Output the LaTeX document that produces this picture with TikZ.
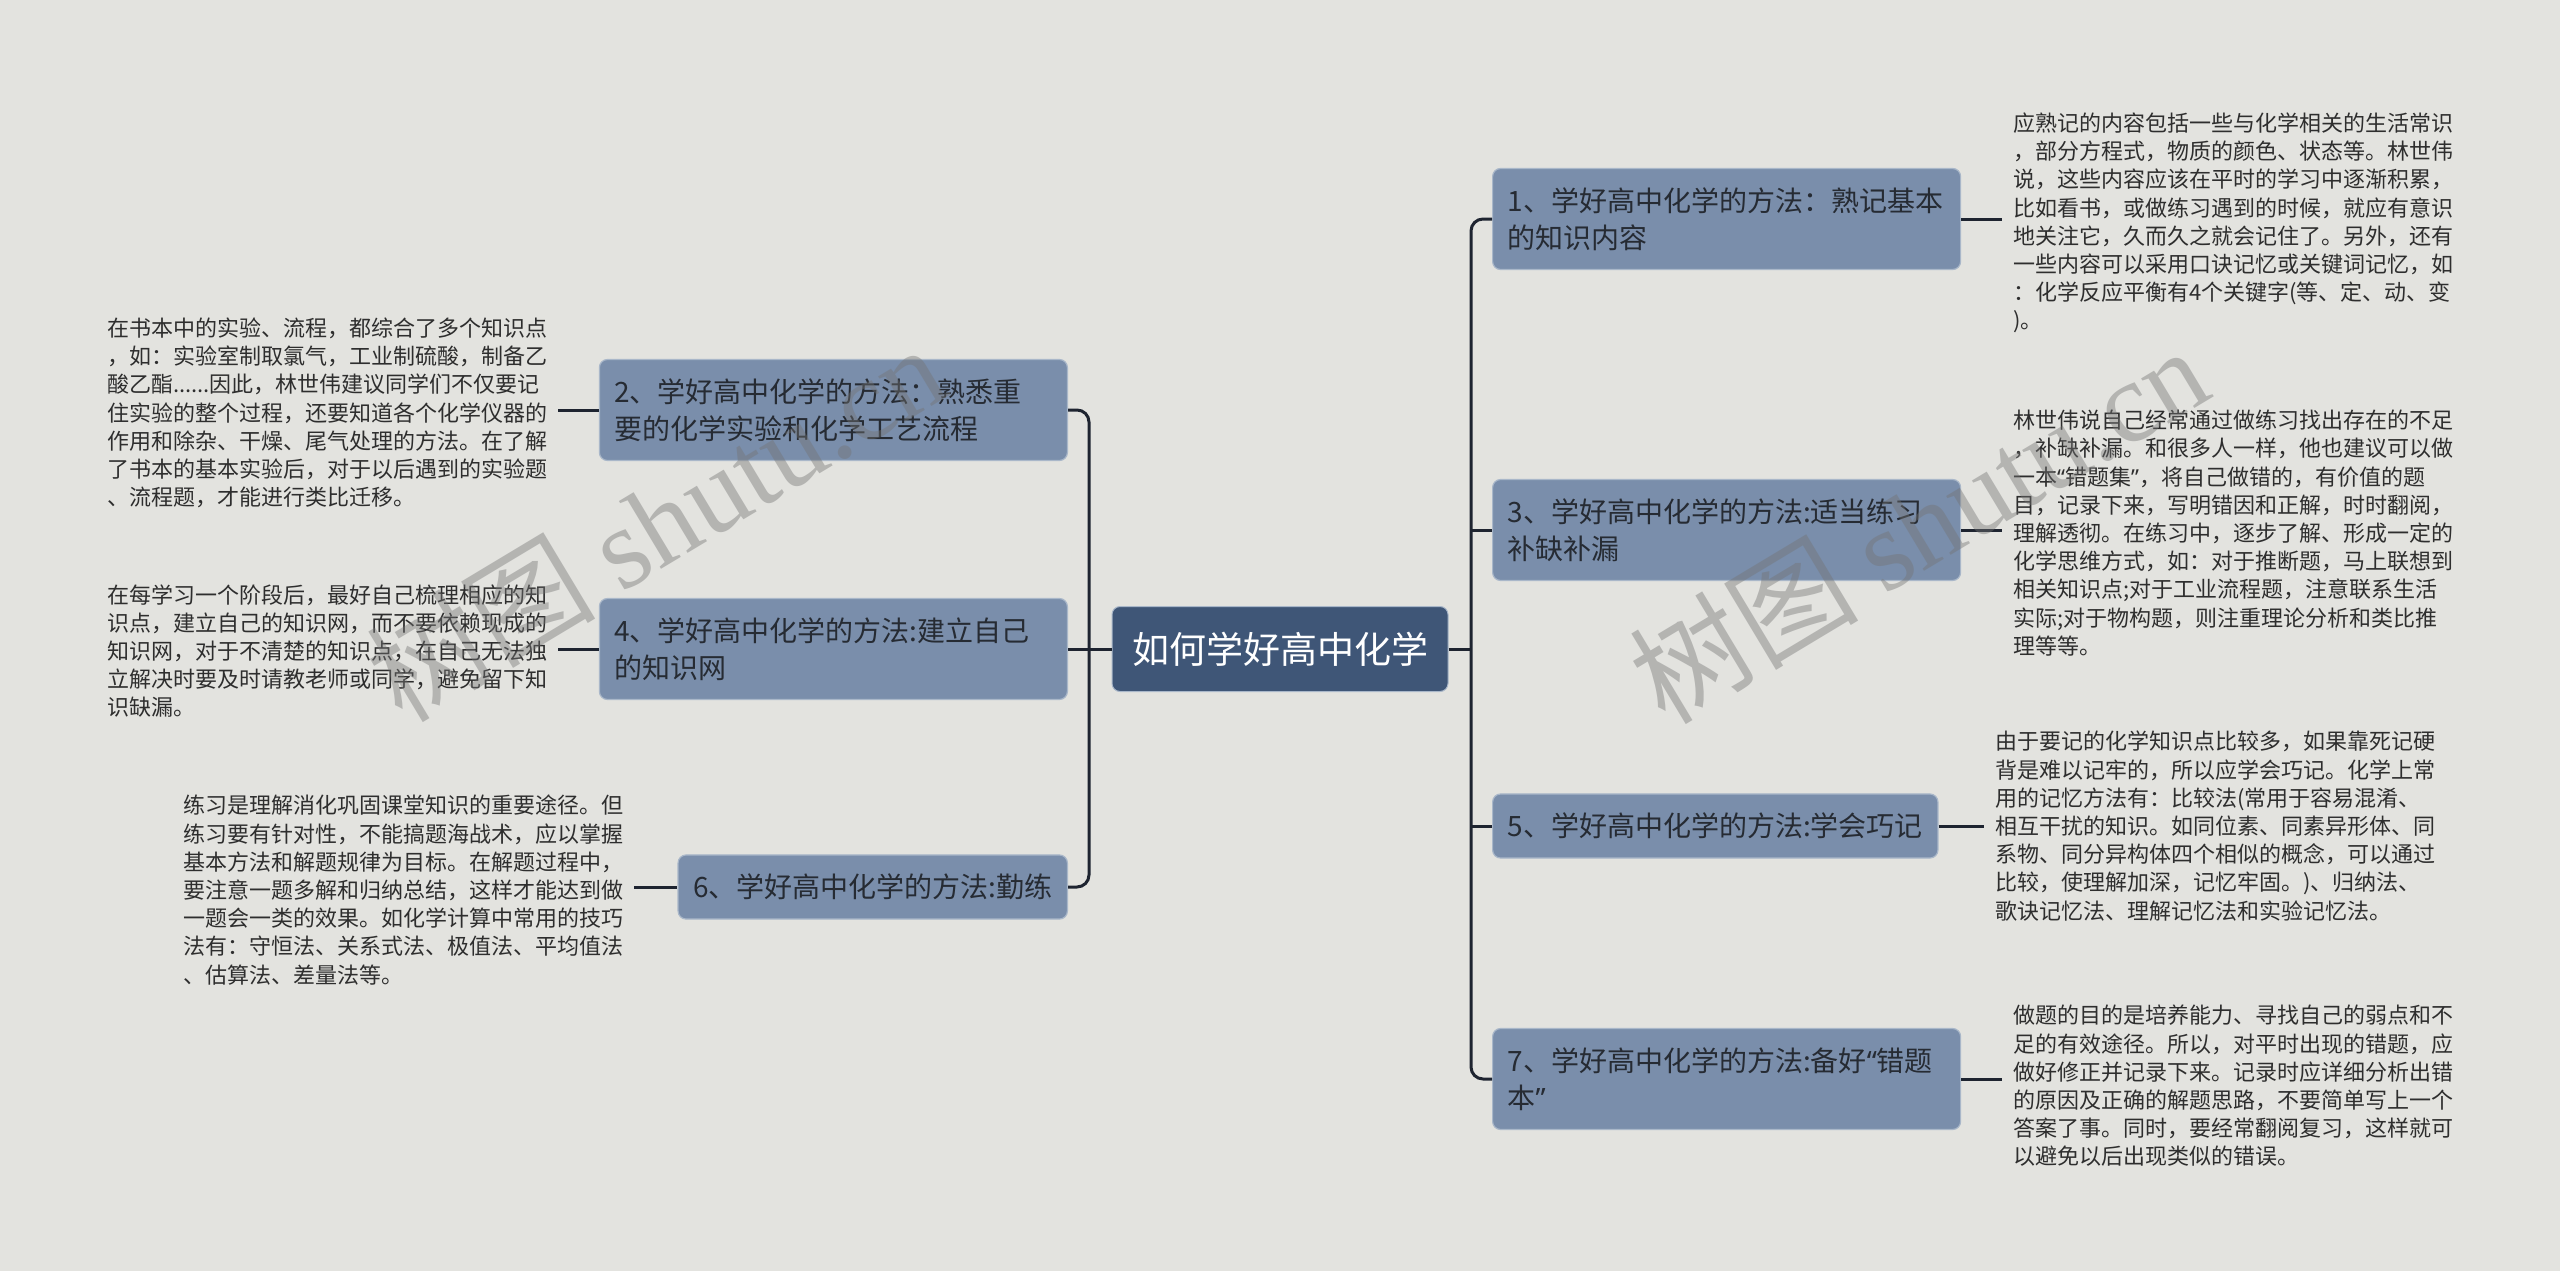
\documentclass[tikz,border=0pt]{standalone}
\usepackage{fontspec}
\setmainfont{Noto Sans CJK SC}
\newfontfamily\wmlatin{Liberation Serif}
\newfontfamily\qfont{Noto Sans}
\newcommand{\myoq}{{\qfont “}}
\newcommand{\mycq}{{\qfont ”}}
\usetikzlibrary{calc}
\definecolor{bgc}{HTML}{E3E3DF}
\definecolor{rootc}{HTML}{3F5677}
\definecolor{subc}{HTML}{7A8EAB}
\definecolor{subb}{HTML}{A9B7C9}
\definecolor{linec}{HTML}{1E2430}
\definecolor{txtc}{HTML}{2E2E2E}
\definecolor{nodetxt}{HTML}{262B33}
\begin{document}
\begin{tikzpicture}[x=1pt,y=-1pt,
  conn/.style={draw=linec, line width=3pt},
  rootnode/.style={fill=rootc, draw=subb, line width=1pt, rounded corners=8pt,
    minimum width=336pt, minimum height=85pt, text=white,
    font=\fontsize{37}{44}\selectfont, inner sep=0pt},
  subnode/.style={fill=subc, draw=subb, line width=1.2pt, rounded corners=8pt,
    text=nodetxt, font=\fontsize{28}{37}\selectfont, align=left,
    inner xsep=15pt, inner ysep=19pt},
  wrapped/.style={text width=438pt},
  desc/.style={text=txtc, font=\fontsize{22}{28.2}\selectfont, align=left,
    inner xsep=11pt, inner ysep=0pt},
  wm/.style={text=black!55, opacity=0.42, text opacity=0.42, rotate=31,
    font=\fontsize{115}{115}\selectfont, inner sep=0pt}]

\fill[bgc] (0,0) rectangle (2560,1271);
\useasboundingbox (0,0) rectangle (2560,1271);

% root
\node[rootnode] (root) at (1280,649) {如何学好高中化学};

% right branches
\node[subnode, wrapped, anchor=west] (n1) at (1492,219) {1、学好高中化学的方法：熟记基本\\的知识内容};
\node[subnode, wrapped, anchor=west] (n3) at (1492,530) {3、学好高中化学的方法:适当练习\\补缺补漏};
\node[subnode, anchor=west] (n5) at (1492,826) {5、学好高中化学的方法:学会巧记};
\node[subnode, wrapped, anchor=west] (n7) at (1492,1079) {7、学好高中化学的方法:备好\myoq 错题\\本\mycq};

% left branches
\node[subnode, wrapped, anchor=east] (n2) at (1068,410) {2、学好高中化学的方法：熟悉重\\要的化学实验和化学工艺流程};
\node[subnode, wrapped, anchor=east] (n4) at (1068,649) {4、学好高中化学的方法:建立自己\\的知识网};
\node[subnode, anchor=east] (n6) at (1068,887) {6、学好高中化学的方法:勤练};

% descriptions right
\node[desc, anchor=west] (t1) at (2002,223) {应熟记的内容包括一些与化学相关的生活常识\\，部分方程式，物质的颜色、状态等。林世伟\\说，这些内容应该在平时的学习中逐渐积累，\\比如看书，或做练习遇到的时候，就应有意识\\地关注它，久而久之就会记住了。另外，还有\\一些内容可以采用口诀记忆或关键词记忆，如\\：化学反应平衡有4个关键字(等、定、动、变\\)。};
\node[desc, anchor=west] (t3) at (2002,533) {林世伟说自己经常通过做练习找出存在的不足\\，补缺补漏。和很多人一样，他也建议可以做\\一本\myoq 错题集\mycq ，将自己做错的，有价值的题\\目，记录下来，写明错因和正解，时时翻阅，\\理解透彻。在练习中，逐步了解、形成一定的\\化学思维方式，如：对于推断题，马上联想到\\相关知识点;对于工业流程题，注意联系生活\\实际;对于物构题，则注重理论分析和类比推\\理等等。};
\node[desc, anchor=west] (t5) at (1984,826) {由于要记的化学知识点比较多，如果靠死记硬\\背是难以记牢的，所以应学会巧记。化学上常\\用的记忆方法有：比较法(常用于容易混淆、\\相互干扰的知识。如同位素、同素异形体、同\\系物、同分异构体四个相似的概念，可以通过\\比较，使理解加深，记忆牢固。)、归纳法、\\歌诀记忆法、理解记忆法和实验记忆法。};
\node[desc, anchor=west] (t7) at (2002,1086) {做题的目的是培养能力、寻找自己的弱点和不\\足的有效途径。所以，对平时出现的错题，应\\做好修正并记录下来。记录时应详细分析出错\\的原因及正确的解题思路，不要简单写上一个\\答案了事。同时，要经常翻阅复习，这样就可\\以避免以后出现类似的错误。};

% descriptions left
\node[desc, anchor=west] (t2) at (96,413) {在书本中的实验、流程，都综合了多个知识点\\，如：实验室制取氯气，工业制硫酸，制备乙\\酸乙酯......因此，林世伟建议同学们不仅要记\\住实验的整个过程，还要知道各个化学仪器的\\作用和除杂、干燥、尾气处理的方法。在了解\\了书本的基本实验后，对于以后遇到的实验题\\、流程题，才能进行类比迁移。};
\node[desc, anchor=west] (t4) at (96,651) {在每学习一个阶段后，最好自己梳理相应的知\\识点，建立自己的知识网，而不要依赖现成的\\知识网，对于不清楚的知识点，在自己无法独\\立解决时要及时请教老师或同学，避免留下知\\识缺漏。};
\node[desc, anchor=west] (t6) at (172,890) {练习是理解消化巩固课堂知识的重要途径。但\\练习要有针对性，不能搞题海战术，应以掌握\\基本方法和解题规律为目标。在解题过程中，\\要注意一题多解和归纳总结，这样才能达到做\\一题会一类的效果。如化学计算中常用的技巧\\法有：守恒法、关系式法、极值法、平均值法\\、估算法、差量法等。};

% trunks
\coordinate (lt) at (1089,649);
\coordinate (rt) at (1471,649);
\draw[conn, rounded corners=12pt] (n2.east) -| (lt) |- (n6.east);
\draw[conn] (n4.east) -- (root.west);
\draw[conn, rounded corners=12pt] (n1.west) -| (rt) |- (n7.west);
\draw[conn] (root.east) -- (rt);
\draw[conn] (n3.west) -- (n3.west -| rt);
\draw[conn] (n5.west) -- (n5.west -| rt);

% leaf connectors
\draw[conn] (n1.east) -- (n1.east -| t1.west);
\draw[conn] (n3.east) -- (n3.east -| t3.west);
\draw[conn] (n5.east) -- (n5.east -| t5.west);
\draw[conn] (n7.east) -- (n7.east -| t7.west);
\draw[conn] (n2.west -| t2.east) -- (n2.west);
\draw[conn] (n4.west -| t4.east) -- (n4.west);
\draw[conn] (n6.west -| t6.east) -- (n6.west);

% watermarks
\node[wm] (wm1) at (655,522) {树图 {\wmlatin shutu.cn}};
\node[wm] (wm2) at (1918,524) {树图 {\wmlatin shutu.cn}};
\end{tikzpicture}
\end{document}
